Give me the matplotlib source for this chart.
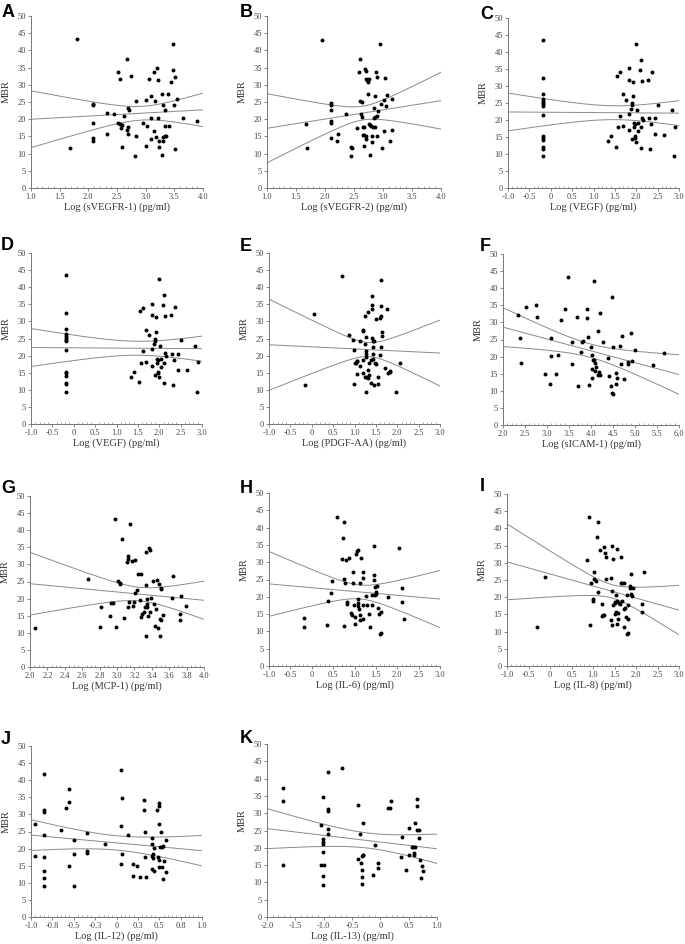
import numpy as np
import matplotlib
matplotlib.use("Agg")
import matplotlib.pyplot as plt
from matplotlib.ticker import MultipleLocator

plt.rcParams['font.family'] = ['Liberation Serif', 'DejaVu Serif']

# ---- data (x = log concentration, y = MBR) ----
a_x = [1.68, 1.81, 2.08, 2.08, 2.08, 2.08, 2.08, 2.33, 2.33, 2.45, 2.52, 2.56, 2.52, 2.56, 2.58,
       2.57, 2.58, 2.63, 2.68, 2.69, 2.71, 2.67, 2.69, 2.69, 2.74, 2.83, 2.82, 2.83, 2.95, 3.00,
       3.02, 3.00, 3.06, 3.09, 3.10, 3.10, 3.14, 3.15, 3.17, 3.18, 3.19, 3.21, 3.21, 3.24, 3.24,
       3.28, 3.29, 3.30, 3.30, 3.31, 3.33, 3.33, 3.34, 3.36, 3.40, 3.39, 3.44, 3.47, 3.48, 3.50,
       3.51, 3.52, 3.55, 3.65, 3.89]
a_y = [11.5, 43.3, 24.5, 24.0, 19.0, 14.5, 13.8, 15.8, 21.8, 21.4, 33.7, 31.6, 18.8, 18.5, 18.2,
       17.5, 11.9, 21.0, 37.5, 23.3, 22.7, 16.9, 17.7, 15.6, 32.7, 25.3, 9.3, 15.0, 18.8, 25.6,
       17.9, 12.2, 31.6, 14.2, 26.7, 20.4, 16.7, 33.8, 25.3, 14.9, 34.8, 31.3, 20.4, 13.6, 11.8,
       9.5, 27.4, 24.2, 14.9, 13.8, 22.7, 15.0, 18.1, 15.1, 18.0, 27.3, 30.8, 42.0, 34.4, 24.2,
       32.2, 11.4, 25.9, 20.3, 19.6]

b_x = [1.67, 1.69, 1.94, 2.10, 2.10, 2.10, 2.10, 2.10, 2.10, 2.22, 2.21, 2.36, 2.44, 2.47, 2.45,
       2.55, 2.58, 2.61, 2.60, 2.64, 2.62, 2.64, 2.65, 2.67, 2.65, 2.67, 2.68, 2.69, 2.71, 2.70,
       2.73, 2.74, 2.76, 2.70, 2.71, 2.74, 2.75, 2.77, 2.79, 2.77, 2.81, 2.81, 2.82, 2.84, 2.85,
       2.86, 2.86, 2.86, 2.88, 2.89, 2.89, 2.89, 2.91, 2.94, 2.96, 2.99, 3.01, 3.01, 3.04, 3.05,
       3.07, 3.12, 3.15, 3.15]
b_y = [18.7, 11.5, 43.1, 24.6, 24.1, 22.6, 19.6, 18.9, 14.5, 15.8, 13.7, 21.6, 12.0, 11.6, 9.3,
       17.5, 33.7, 37.4, 25.2, 25.1, 21.4, 20.5, 17.7, 17.7, 15.5, 12.1, 15.3, 34.7, 34.1, 31.6,
       31.4, 30.9, 31.6, 15.0, 14.3, 27.2, 18.5, 18.2, 18.1, 9.5, 15.0, 13.3, 17.7, 23.3, 20.3,
       20.6, 17.8, 26.8, 33.7, 32.4, 20.9, 15.0, 22.5, 41.8, 24.4, 11.5, 16.6, 25.6, 32.0, 23.9,
       27.0, 13.7, 25.8, 16.9]

vegf_x = [-0.19] * 15 + [
    1.34, 1.40, 1.52, 1.55, 1.57, 1.62, 1.63, 1.70, 1.69, 1.77, 1.82, 1.84, 1.84, 1.84, 1.87,
    1.89, 1.89, 1.89, 1.92, 1.92, 1.94, 1.95, 1.96, 1.97, 1.98, 1.99, 2.00, 2.01, 2.03, 2.05,
    2.09, 2.10, 2.11, 2.13, 2.13, 2.12, 2.16, 2.28, 2.30, 2.31, 2.35, 2.37, 2.44, 2.45, 2.52,
    2.65, 2.84, 2.90, 2.88]
vegf_y = [43.6, 32.5, 27.7, 26.2, 25.7, 25.1, 24.6, 24.2, 21.6, 15.3, 14.8, 14.0, 12.1, 11.6, 9.4,
          13.8, 15.3, 12.2, 32.9, 17.9, 34.0, 21.2, 27.6, 18.2, 26.0, 17.1, 35.2, 31.8, 21.9, 23.3,
          24.9, 24.3, 14.4, 27.0, 31.2, 19.0, 17.9, 15.3, 18.8, 14.8, 13.6, 42.4, 22.9, 19.0, 16.7,
          34.8, 17.9, 37.7, 20.7, 31.6, 11.9, 20.0, 31.8, 20.6, 11.5, 18.7, 34.1, 20.5, 15.9, 24.5,
          15.7, 22.9, 18.0, 9.5]

e_x = [-0.15, 0.06, 0.71, 0.87, 0.97, 0.99, 0.98, 1.02, 1.05, 1.04, 1.07, 1.06, 1.12, 1.14, 1.19,
       1.20, 1.21, 1.21, 1.25, 1.26, 1.26, 1.26, 1.24, 1.24, 1.26, 1.28, 1.27, 1.31, 1.32, 1.31,
       1.35, 1.38, 1.33, 1.40, 1.38, 1.42, 1.42, 1.42, 1.43, 1.44, 1.46, 1.44, 1.44, 1.45, 1.47,
       1.51, 1.51, 1.54, 1.54, 1.59, 1.61, 1.59, 1.61, 1.61, 1.61, 1.65, 1.65, 1.72, 1.75, 1.79,
       1.82, 1.83, 1.98, 2.07]
e_y = [11.5, 32.3, 43.4, 25.9, 24.7, 21.5, 11.8, 17.8, 18.3, 17.8, 18.4, 14.5, 24.2, 17.0, 18.8,
       27.4, 27.1, 14.8, 23.3, 25.3, 21.2, 20.6, 31.6, 13.8, 13.6, 19.6, 9.4, 15.8, 32.8, 13.5,
       17.9, 18.6, 14.2, 25.2, 11.9, 33.6, 34.9, 37.5, 22.6, 24.3, 24.3, 20.5, 19.0, 11.4, 17.8,
       30.7, 17.5, 13.8, 11.7, 20.3, 42.0, 31.1, 31.5, 34.4, 22.6, 26.8, 25.6, 16.5, 33.7, 14.9,
       15.3, 15.6, 9.4, 17.8]

f_x = [2.34, 2.39, 2.41, 2.52, 2.75, 2.77, 2.96, 3.06, 3.09, 3.09, 3.21, 3.25, 3.31, 3.40, 3.47,
       3.56, 3.56, 3.69, 3.71, 3.78, 3.80, 3.82, 3.90, 3.90, 3.93, 3.95, 4.01, 4.02, 4.04, 4.02,
       4.02, 4.06, 4.07, 4.10, 4.11, 4.09, 4.15, 4.17, 4.19, 4.20, 4.21, 4.27, 4.38, 4.41, 4.45,
       4.47, 4.48, 4.50, 4.51, 4.57, 4.57, 4.60, 4.69, 4.67, 4.71, 4.76, 4.83, 4.83, 4.90, 4.94,
       4.99, 5.40, 5.66]
f_y = [32.3, 25.3, 18.0, 34.5, 35.0, 31.6, 14.9, 11.9, 25.3, 20.2, 14.9, 20.4, 30.8, 33.8, 43.4,
       24.2, 17.8, 31.6, 11.4, 21.4, 24.2, 24.7, 33.9, 31.3, 25.6, 11.8, 22.8, 20.4, 18.9, 16.5,
       13.7, 42.1, 19.0, 18.2, 16.9, 15.7, 14.7, 27.4, 15.4, 14.5, 32.7, 24.2, 19.6, 14.2, 11.5,
       37.5, 9.5, 9.2, 22.7, 12.1, 15.2, 13.6, 17.7, 23.2, 25.9, 13.5, 18.4, 17.7, 26.8, 18.8,
       21.8, 17.4, 21.0]

g_x = [2.06, 2.67, 2.81, 2.82, 2.92, 2.93, 2.95, 2.98, 2.99, 3.01, 3.03, 3.04, 3.06, 3.08, 3.11,
       3.13, 3.13, 3.13, 3.14, 3.15, 3.17, 3.18, 3.19, 3.21, 3.21, 3.23, 3.24, 3.26, 3.28, 3.28,
       3.29, 3.31, 3.32, 3.33, 3.33, 3.33, 3.34, 3.34, 3.35, 3.36, 3.37, 3.38, 3.38, 3.39, 3.41,
       3.42, 3.44, 3.45, 3.46, 3.47, 3.48, 3.49, 3.49, 3.50, 3.51, 3.51, 3.53, 3.63, 3.64, 3.72,
       3.72, 3.74, 3.79]
g_y = [11.3, 25.7, 11.7, 17.6, 14.9, 18.6, 18.7, 43.2, 11.6, 25.2, 24.6, 24.2, 37.4, 14.3, 30.7,
       31.5, 32.6, 17.6, 18.9, 41.9, 31.1, 17.9, 19.0, 31.4, 21.6, 22.6, 27.2, 19.5, 27.1, 14.6,
       15.5, 16.1, 17.4, 24.1, 9.1, 33.6, 20.0, 18.4, 17.4, 14.8, 34.7, 34.3, 16.1, 20.3, 25.1,
       18.4, 11.9, 16.9, 25.5, 11.5, 24.2, 14.0, 9.0, 23.2, 22.8, 13.7, 15.1, 20.2, 26.7, 15.4,
       13.6, 20.8, 17.7]

h_x = [-0.18, -0.18, 0.37, 0.36, 0.45, 0.48, 0.59, 0.70, 0.74, 0.76, 0.76, 0.77, 0.76, 0.81, 0.82,
       0.83, 0.87, 0.92, 0.93, 0.96, 0.97, 0.98, 1.01, 1.00, 1.03, 1.07, 1.09, 1.09, 1.09, 1.09,
       1.10, 1.12, 1.12, 1.14, 1.16, 1.19, 1.19, 1.19, 1.20, 1.27, 1.30, 1.33, 1.37, 1.40, 1.42,
       1.45, 1.46, 1.46, 1.47, 1.49, 1.50, 1.51, 1.53, 1.56, 1.57, 1.59, 1.61, 1.62, 1.79, 2.03,
       2.10, 2.12, 2.16]
h_y = [14.0, 11.3, 18.8, 11.8, 21.1, 24.5, 43.0, 31.0, 37.1, 41.7, 25.1, 24.0, 11.6, 30.5, 18.4,
       17.8, 31.3, 15.3, 14.8, 27.2, 24.0, 17.6, 14.3, 12.0, 32.3, 33.3, 33.6, 19.4, 18.3, 17.4,
       16.6, 14.7, 13.4, 24.0, 31.3, 27.1, 25.4, 13.6, 17.6, 20.3, 17.7, 14.9, 11.3, 17.6, 20.4,
       34.7, 24.9, 26.4, 22.7, 20.5, 20.8, 21.4, 23.1, 16.8, 15.0, 9.2, 15.5, 9.4, 20.0, 34.2,
       18.5, 22.5, 13.6]

i_x = [-0.31, -0.12, 0.86, 0.91, 0.93, 0.95, 0.99, 0.99, 1.03, 1.03, 1.08, 1.10, 1.11, 1.11, 1.17,
       1.20, 1.21, 1.23, 1.26, 1.25, 1.29, 1.31, 1.31, 1.41, 1.43, 1.44, 1.44, 1.45, 1.47, 1.46,
       1.51, 1.51, 1.52, 1.53, 1.54, 1.55, 1.56, 1.56, 1.58, 1.59, 1.60, 1.62, 1.64, 1.65, 1.67,
       1.68, 1.72, 1.72, 1.72, 1.75, 1.77, 1.78, 1.79, 1.81, 1.82, 1.82, 1.85, 1.85, 1.89, 1.89,
       1.90, 1.93, 2.13, 2.15, 2.18]
i_y = [11.4, 25.9, 30.8, 43.3, 11.8, 24.2, 19.6, 18.9, 27.4, 25.4, 24.7, 37.6, 42.0, 21.5, 33.8,
       14.6, 17.9, 14.9, 14.8, 34.5, 32.8, 25.3, 31.7, 25.7, 13.4, 21.8, 11.8, 34.9, 31.2, 17.6,
       18.2, 15.1, 18.7, 15.8, 20.5, 33.9, 19.0, 12.2, 13.8, 15.3, 18.3, 17.9, 31.7, 24.2, 18.8,
       24.2, 16.5, 11.4, 24.2, 16.9, 14.1, 9.3, 20.5, 17.8, 9.5, 13.8, 23.2, 22.8, 26.8, 21.0,
       20.4, 22.8, 15.7, 17.9, 27.4]

j_x = [-0.95, -0.95, -0.85, -0.85, -0.85, -0.85, -0.85, -0.85, -0.85, -0.85, -0.65, -0.59, -0.56,
       -0.56, -0.56, -0.50, -0.50, -0.50, -0.35, -0.35, -0.35, -0.13, 0.05, 0.05, 0.05, 0.07, 0.07,
       0.13, 0.19, 0.19, 0.24, 0.27, 0.32, 0.32, 0.33, 0.33, 0.35, 0.42, 0.42, 0.42, 0.43, 0.43,
       0.44, 0.42, 0.44, 0.47, 0.50, 0.50, 0.50, 0.49, 0.50, 0.50, 0.51, 0.52, 0.53, 0.54, 0.53,
       0.54, 0.56, 0.58, 0.58]
j_y = [27.1, 17.8, 41.9, 31.2, 30.8, 24.1, 17.6, 13.5, 11.3, 9.2, 25.4, 32.0, 37.3, 33.6, 15.0,
       22.5, 18.5, 9.0, 24.5, 19.2, 18.7, 21.4, 43.1, 26.6, 15.6, 34.8, 18.5, 24.1, 15.4, 11.9,
       14.8, 11.6, 34.2, 31.4, 25.0, 17.5, 11.6, 23.0, 21.2, 17.7, 17.3, 18.3, 20.1, 13.9, 13.5,
       31.4, 33.4, 32.5, 27.2, 17.5, 16.8, 14.7, 20.4, 25.0, 20.5, 20.8, 14.7, 11.2, 16.4, 22.5,
       13.3]

k_x = [-1.71, -1.71, -1.71, -1.05, -1.04, -1.01, -1.01, -1.01, -1.01, -1.01, -0.99, -1.01, -1.01,
       -0.93, -0.93, -0.93, -0.93, -0.93, -0.67, -0.40, -0.40, -0.36, -0.34, -0.33, -0.31, -0.31,
       -0.30, -0.32, -0.32, -0.32, -0.13, -0.10, -0.04, -0.04, 0.14, 0.17, 0.18, 0.36, 0.38, 0.45,
       0.50, 0.51, 0.56, 0.58, 0.59, 0.59, 0.61, 0.62, 0.64, 0.65, 0.65, 0.69, 0.68, 0.70, 0.71,
       0.74, 0.75]
k_y = [37.3, 33.5, 15.1, 26.6, 14.9, 34.8, 22.4, 21.6, 21.1, 18.7, 14.9, 11.8, 9.2, 41.8, 31.1,
       30.6, 25.4, 24.1, 43.1, 32.4, 16.9, 24.1, 15.7, 17.7, 18.0, 17.8, 27.2, 13.7, 11.5, 9.4,
       12.0, 20.9, 15.6, 14.2, 31.5, 31.5, 33.4, 17.3, 23.1, 13.6, 17.8, 25.7, 20.2, 20.2, 18.4,
       17.9, 20.3, 27.3, 34.2, 32.0, 25.2, 25.1, 22.7, 16.4, 11.3, 14.8, 13.4]

# x tick values and labels per axis type
ticks_svegfr = [1.0, 1.5, 2.0, 2.5, 3.0, 3.5, 4.0]
labels_svegfr = ["1.0", "1.5", "2.0", "2.5", "3.0", "3.5", "4.0"]
ticks_m1_3 = [-1.0, -0.5, 0, 0.5, 1.0, 1.5, 2.0, 2.5, 3.0]
labels_m1_3 = ["-1.0", "-0.5", "0", "0.5", "1.0", "1.5", "2.0", "2.5", "3.0"]
ticks_icam = [2.0, 2.5, 3.0, 3.5, 4.0, 4.5, 5.0, 5.5, 6.0]
labels_icam = ["2.0", "2.5", "3.0", "3.5", "4.0", "4.5", "5.0", "5.5", "6.0"]
ticks_mcp = [2.0, 2.2, 2.4, 2.6, 2.8, 3.0, 3.2, 3.4, 3.6, 3.8, 4.0]
labels_mcp = ["2.0", "2.2", "2.4", "2.6", "2.8", "3.0", "3.2", "3.4", "3.6", "3.8", "4.0"]
ticks_il12 = [-1.0, -0.75, -0.5, -0.25, 0, 0.25, 0.5, 0.75, 1.0]
labels_il12 = ["-1.0", "-0.8", "-0.5", "-0.3", "0", "0.3", "0.5", "0.8", "1.0"]
ticks_il13 = [-2.0, -1.5, -1.0, -0.5, 0, 0.5, 1.0]
labels_il13 = ["-2.0", "-1.5", "-1.0", "-0.5", "0", "0.5", "1.0"]
y_ticks = [0, 5, 10, 15, 20, 25, 30, 35, 40, 45, 50]

W, H = 685, 944


def rect(l, r, t, b):
    return [l / W, 1 - b / H, (r - l) / W, (b - t) / H]


# letter, x, y, xlabel, ticks, labels, minor step, axes box (px), letter pos (px)
panels = [
    ("A", a_x, a_y, "Log (sVEGFR-1) (pg/ml)", ticks_svegfr, labels_svegfr, 0.1, rect(31, 203, 16, 188), (2, 4)),
    ("B", b_x, b_y, "Log (sVEGFR-2) (pg/ml)", ticks_svegfr, labels_svegfr, 0.1, rect(267, 441, 16, 188), (240, 4)),
    ("C", vegf_x, vegf_y, "Log (VEGF) (pg/ml)", ticks_m1_3, labels_m1_3, 0.1, rect(508, 679, 18, 188), (480, 6)),
    ("D", vegf_x, vegf_y, "Log (VEGF) (pg/ml)", ticks_m1_3, labels_m1_3, 0.1, rect(31, 202, 253, 424), (1, 237)),
    ("E", e_x, e_y, "Log (PDGF-AA) (pg/ml)", ticks_m1_3, labels_m1_3, 0.1, rect(269, 440, 253, 424), (240, 238)),
    ("F", f_x, f_y, "Log (sICAM-1) (pg/ml)", ticks_icam, labels_icam, 0.1, rect(503, 679, 254, 425), (480, 238)),
    ("G", g_x, g_y, "Log (MCP-1) (pg/ml)", ticks_mcp, labels_mcp, 0.05, rect(30, 204, 496, 667), (1, 480)),
    ("H", h_x, h_y, "Log (IL-6) (pg/ml)", ticks_m1_3, labels_m1_3, 0.1, rect(269, 440, 493, 666), (240, 480)),
    ("I", i_x, i_y, "Log (IL-8) (pg/ml)", ticks_m1_3, labels_m1_3, 0.1, rect(507, 679, 494, 666), (480, 478)),
    ("J", j_x, j_y, "Log (IL-12) (pg/ml)", ticks_il12, labels_il12, 0.05, rect(31, 202, 746, 917), (1, 731)),
    ("K", k_x, k_y, "Log (IL-13) (pg/ml)", ticks_il13, labels_il13, 0.1, rect(267, 437, 744, 917), (240, 730)),
]


def fit_band(x, y, xs):
    # least squares line with 95% confidence band of the mean
    x = np.asarray(x)
    y = np.asarray(y)
    n = len(x)
    b, a = np.polyfit(x, y, 1)
    fit = a + b * xs
    s = np.sqrt(np.sum((y - (a + b * x)) ** 2) / (n - 2))
    se = s * np.sqrt(1 / n + (xs - x.mean()) ** 2 / np.sum((x - x.mean()) ** 2))
    return fit, fit - 2.0 * se, fit + 2.0 * se


fig = plt.figure(figsize=(W / 100, H / 100), dpi=100)

for letter, xs_data, ys_data, xlabel, ticks, labels, minor, box, lpos in panels:
    ax = fig.add_axes(box)
    ax.scatter(xs_data, ys_data, s=8, color="black", linewidths=0, zorder=3)

    grid = np.linspace(ticks[0], ticks[-1], 200)
    fit, lo, hi = fit_band(xs_data, ys_data, grid)
    for line in (fit, lo, hi):
        ax.plot(grid, line, color="#8a8a8a", lw=0.7, zorder=2)

    ax.set_xlim(ticks[0], ticks[-1])
    ax.set_ylim(0, 50)
    ax.set_xticks(ticks)
    ax.set_xticklabels(labels)
    ax.set_yticks(y_ticks)
    ax.xaxis.set_minor_locator(MultipleLocator(minor))

    for side in ("top", "right"):
        ax.spines[side].set_visible(False)
    for side in ("left", "bottom"):
        ax.spines[side].set_color("#777777")
        ax.spines[side].set_linewidth(0.7)

    ax.tick_params(axis="both", which="major", direction="out", length=2, width=0.6,
                   color="#777777", labelsize=6, labelcolor="#444444", pad=1.5)
    ax.tick_params(axis="x", which="minor", direction="in", length=1.2, width=0.5, color="#888888")

    hpx = box[3] * H
    wpx = box[2] * W
    ax.set_xlabel(xlabel, fontsize=7.5, color="#333333", va="center")
    ax.xaxis.set_label_coords(0.5, -19 / hpx)
    ax.set_ylabel("MBR", fontsize=7.5, color="#333333", va="center")
    ax.yaxis.set_label_coords(-25 / wpx, 0.56)

    fig.text(lpos[0] / W, 1 - lpos[1] / H, letter, fontsize=13, fontweight="bold",
             family=["Liberation Sans", "DejaVu Sans"], va="top", ha="left")

fig.savefig("out.png", dpi=100)
